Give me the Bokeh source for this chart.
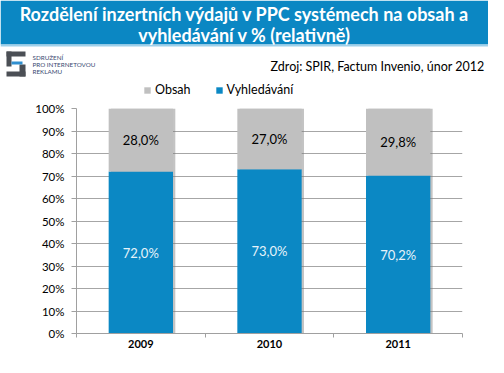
from bokeh.plotting import figure
from bokeh.layouts import column
from bokeh.models import (ColumnDataSource, FixedTicker, NumeralTickFormatter, Legend, LegendItem,
                          Label, Range1d, LabelSet)
from bokeh.transform import dodge
from bokeh.core.properties import value
from bokeh.embed import file_html
from bokeh.resources import INLINE

years = ["2009", "2010", "2011"]
obsah = [28.0, 27.0, 29.8]
vyhledavani = [72.0, 73.0, 70.2]
y_ticks = [0, 10, 20, 30, 40, 50, 60, 70, 80, 90, 100]
series_names = ["Obsah", "Vyhledávání"]
title_lines = ["Rozdělení inzertních výdajů v PPC systémech na obsah a",
               "vyhledávání v % (relativně)"]
source_text = "Zdroj: SPIR, Factum Invenio, únor 2012"
logo_lines = ["SDRUŽENÍ", "PRO INTERNETOVOU", "REKLAMU"]

BLUE = "#0b88c4"
GREY = "#c0c0c0"
BAND = "#0b87c3"
FONT = "Lato"
W = 488
HH = 98      # header height
CH = 357 - HH  # chart height

idx = list(range(len(years)))
src = ColumnDataSource(dict(
    x=idx,
    vyh=[v / 100 for v in vyhledavani],
    top=[(v + o) / 100 for v, o in zip(vyhledavani, obsah)],
    vyh_mid=[v / 200 for v in vyhledavani],
    obs_mid=[(v + o / 2) / 100 for v, o in zip(vyhledavani, obsah)],
    vyh_lbl=[f"{v:.1f}%".replace(".", ",") for v in vyhledavani],
    obs_lbl=[f"{o:.1f}%".replace(".", ",") for o in obsah],
))

# ---------------- header figure (pixel-like ranges) ----------------
h = figure(width=W, height=HH, output_backend="svg", toolbar_location=None,
           x_range=Range1d(0, W), y_range=Range1d(HH, 0),
           x_axis_location=None, y_axis_location=None, frame_align=False,
           min_border=0, min_border_left=0, min_border_right=0, min_border_top=0, min_border_bottom=0)
h.outline_line_color = None
h.xgrid.visible = False
h.ygrid.visible = False
h.background_fill_color = "white"
h.border_fill_color = "white"

# blue band with light edge
h.quad(left=[0], right=[W], top=[0], bottom=[44], fill_color=BAND, line_color=None)
h.quad(left=[0], right=[W], top=[44], bottom=[46], fill_color="#9fd0ea", line_color=None)
for i, t in enumerate(title_lines):
    h.add_layout(Label(x=W / 2, y=13.5 + i * 21, text=t, text_font=FONT, text_font_style="bold",
                       text_font_size="18px", text_color="white", text_align="center",
                       text_baseline="middle"))

# logo (approximate shape)
h.quad(left=[6, 6, 19, 6], right=[25, 11, 25, 25], top=[51, 51, 64, 71], bottom=[56, 66, 76, 76],
       fill_color="#4b4f55", line_color=None)
h.quad(left=[11], right=[22], top=[61], bottom=[64], fill_color="#2f8fd0", line_color=None)
for i, t in enumerate(logo_lines):
    h.add_layout(Label(x=32, y=57 + i * 6.8, text=t, text_font=FONT, text_font_size="6.3px",
                       text_color="#3a4a72", text_align="left", text_baseline="middle"))

h.add_layout(Label(x=484, y=66, text=source_text, text_font=FONT, text_font_size="12.5px",
                   text_color="black", text_align="right", text_baseline="middle"))

# legend: hidden copies of the series, used only for the legend swatches
r_obs = h.vbar(x="x", width=0.5, bottom="vyh", top="top", source=src, fill_color=GREY,
               line_color=None, visible=False)
r_vyh = h.vbar(x="x", width=0.5, bottom=0, top="vyh", source=src, fill_color=BLUE,
               line_color=None, visible=False)
leg = Legend(items=[LegendItem(label=series_names[0], renderers=[r_obs]),
                    LegendItem(label=series_names[1], renderers=[r_vyh])],
             orientation="horizontal", location=(143, 1), padding=0, margin=0, spacing=24,
             glyph_width=8, glyph_height=8, label_standoff=4,
             label_text_font=FONT, label_text_font_size="12.5px", label_text_color="black",
             inactive_fill_alpha=0, inactive_fill_color="white",
             border_line_color=None, background_fill_alpha=0)
h.add_layout(leg)

# ---------------- chart figure ----------------
p = figure(width=W, height=CH, output_backend="svg", toolbar_location=None, frame_align=False,
           x_range=Range1d(-0.5, len(years) - 0.5), y_range=Range1d(0, 1),
           min_border_left=76, min_border_right=26, min_border_top=10, min_border_bottom=24)
p.outline_line_color = None
p.background_fill_color = "white"
p.border_fill_color = "white"

# soft shadow on the right of the bars
p.vbar(x=dodge("x", 0.018), width=0.5, bottom=0, top="top", source=src,
       fill_color="#7a7a7a", fill_alpha=0.45, line_color=None)
p.vbar(x="x", width=0.5, bottom=0, top="vyh", source=src, fill_color=BLUE, line_color=None)
p.vbar(x="x", width=0.5, bottom="vyh", top="top", source=src, fill_color=GREY, line_color=None)

p.add_layout(LabelSet(x="x", y="obs_mid", text="obs_lbl", source=src, text_align="center",
                      text_baseline="middle", text_font=value(FONT), text_font_size="13px",
                      text_color="black"))
p.add_layout(LabelSet(x="x", y="vyh_mid", text="vyh_lbl", source=src, text_align="center",
                      text_baseline="middle", text_font=value(FONT), text_font_size="13px",
                      text_color="#e6f3fa"))

# axes
p.yaxis.ticker = FixedTicker(ticks=[t / 100 for t in y_ticks])
p.yaxis.formatter = NumeralTickFormatter(format="0%")
p.yaxis.axis_line_color = "#a0a0a0"
p.yaxis.major_tick_line_color = "#a0a0a0"
p.yaxis.major_tick_out = 5
p.yaxis.major_tick_in = 0
p.yaxis.minor_tick_line_color = None
p.yaxis.major_label_text_font = FONT
p.yaxis.major_label_text_font_size = "11.5px"
p.yaxis.major_label_text_color = "black"
p.yaxis.major_label_standoff = 7

p.xaxis.ticker = FixedTicker(ticks=idx, minor_ticks=[i - 0.5 for i in idx] + [idx[-1] + 0.5])
p.xaxis.major_label_overrides = {i: y for i, y in zip(idx, years)}
p.xaxis.major_tick_line_color = None
p.xaxis.major_tick_out = 0
p.xaxis.major_tick_in = 0
p.xaxis.minor_tick_line_color = "#a0a0a0"
p.xaxis.minor_tick_out = 4
p.xaxis.minor_tick_in = 0
p.xaxis.axis_line_color = "#a0a0a0"
p.xaxis.major_label_text_font = FONT
p.xaxis.major_label_text_font_style = "bold"
p.xaxis.major_label_text_font_size = "11px"
p.xaxis.major_label_text_color = "black"
p.xaxis.major_label_standoff = 2

p.xgrid.grid_line_color = None
p.ygrid.ticker = FixedTicker(ticks=[t / 100 for t in y_ticks])
p.ygrid.grid_line_color = "#a6a6a6"
p.ygrid.level = "underlay"

layout = column(h, p, spacing=0)
open("out.html", "w").write(file_html(layout, INLINE))
